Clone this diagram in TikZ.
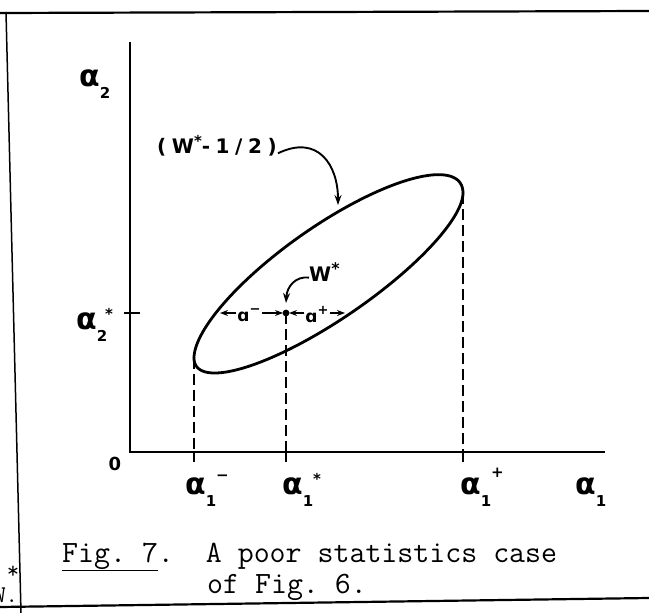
\documentclass[tikz,border=0pt]{standalone}
\usepackage{fontspec}
\newfontfamily\dvs{DejaVu Sans}
\usetikzlibrary{arrows.meta}
\newcommand{\alf}{{\dvs\bfseries\fontsize{30}{30}\selectfont α}}
\newcommand{\sml}[1]{{\dvs\bfseries\fontsize{15}{15}\selectfont #1}}
\newcommand{\alab}[4]{\alf\kern0pt\raisebox{-12pt}{\sml{#1}}\kern#4\raisebox{#3}{\sml{#2}}}
\begin{document}
\begin{tikzpicture}[x=1pt,y=-1pt,
  axisline/.style={line width=2.8pt},
  frameline/.style={line width=2.2pt},
  dashline/.style={line width=2.4pt, dash pattern=on 11pt off 5pt},
  tickline/.style={line width=2.2pt},
  arr/.style={line width=1.9pt, -{Stealth[length=10pt,width=7pt]}},
  darr/.style={line width=1.5pt, -{Stealth[length=8pt,width=6pt]}},
  lab/.style={inner sep=0pt, anchor=base west},
  capt/.style={inner sep=0pt, anchor=base west, font=\ttfamily\fontsize{31}{31}\selectfont},
]
\useasboundingbox (0,0) rectangle (649,613);
% frame
\draw[frameline] (0,13) -- (649,11);
\draw[line width=1.5pt] (6,12) -- (21,613);
\draw[frameline] (0,607) -- (649,598);
% axes
\coordinate (ytop) at (130,42);
\coordinate (O) at (130,452);
\coordinate (xend) at (605,452);
\draw[axisline] (ytop) -- (O) -- (xend);
% ellipse
\draw[axisline, line cap=round] plot[domain=0:180, samples=80, smooth, variable=\t]
  ({328.5+134.5*cos(\t)}, {275.5-82.5*cos(\t)-58*sin(\t)});
\draw[axisline, line cap=round] plot[domain=180:360, samples=80, smooth, variable=\t]
  ({328.5+134.5*cos(\t)}, {275.5-82.5*cos(\t)-52*sin(\t)});
% key points
\coordinate (L) at (194,358);
\coordinate (R) at (463,193);
\coordinate (W) at (286,313);
\coordinate (Lx) at (194,452);
\coordinate (Wx) at (286,452);
\coordinate (Rx) at (463,452);
\draw[dashline] (L) -- (Lx);
\draw[dashline] (W) -- (Wx);
\draw[dashline] (R) -- (Rx);
\draw[tickline] (Lx) -- ++(0,10);
\draw[tickline] (Wx) -- ++(0,10);
\draw[tickline] (Rx) -- ++(0,10);
\draw[tickline] (124,313) -- (140,313);
\fill (W) circle (3.4pt);
% a- and a+ arrows
\coordinate (El) at (220,313);
\coordinate (Er) at (345,313);
\node[inner sep=0pt, font=\dvs\bfseries\fontsize{17}{17}\selectfont] (am) at (249,315) {ɑ\raisebox{8pt}{\fontsize{13}{13}\selectfont −}};
\node[inner sep=0pt, font=\dvs\bfseries\fontsize{17}{17}\selectfont] (ap) at (317,315) {ɑ\raisebox{8pt}{\fontsize{13}{13}\selectfont +}};
\draw[darr] (am.west |- W) ++(-1,0) -- (El);
\draw[darr] (am.east |- W) ++(1,0) -- ([xshift=-3pt]W);
\draw[darr] (ap.west |- W) ++(-1,0) -- ([xshift=3pt]W);
\draw[darr] (ap.east |- W) ++(1,0) -- (Er);
% W* label
\node[lab, font=\dvs\bfseries\fontsize{20}{20}\selectfont] (wl) at (309,281) {W\raisebox{7pt}{\fontsize{16}{16}\selectfont *}};
\coordinate (wtip) at (286,303);
\draw[arr] ([yshift=-6pt]wl.west) .. controls (296,276) and (287,286) .. (wtip);
% (W*-1/2) label
\node[lab, font=\dvs\bfseries\fontsize{20}{20}\selectfont\addfontfeature{LetterSpace=28}] (hl) at (157,153) {(W\raisebox{7pt}{\fontsize{15}{15}\selectfont *}-1/2)};
\coordinate (htip) at (338,205);
\draw[arr] ([yshift=-8pt]hl.east) ++(1,0) .. controls (318,134) and (338,165) .. (htip);
% axis labels
\node[inner sep=0pt, font=\dvs\bfseries\fontsize{18}{18}\selectfont] (zero) at (115,464) {0};
\node[lab] (a2) at (79,86) {\alab{2}{}{0pt}{0pt}};
\node[lab] (a2s) at (76,329) {\alab{2}{*}{10pt}{-2pt}};
\node[lab] (a1m) at (185,494) {\alab{1}{−}{14pt}{0pt}};
\node[lab] (a1s) at (282,494) {\alab{1}{*}{10pt}{0pt}};
\node[lab] (a1p) at (460,494) {\alab{1}{+}{17pt}{0pt}};
\node[lab] (a1) at (575,494) {\alab{1}{}{0pt}{0pt}};
% caption
\node[capt] (c1) at (62,562) {\underline{Fig.~7}.~~A poor statistics case};
\node[capt] (c2) at (207,593) {of Fig.~6.};
\node[capt, font=\ttfamily\fontsize{24}{24}\selectfont] (st) at (6.7,578) {*};
\node[capt, anchor=base east, font=\ttfamily\fontsize{24}{24}\selectfont] (wd) at (18.3,602) {W.};
\end{tikzpicture}
\end{document}
